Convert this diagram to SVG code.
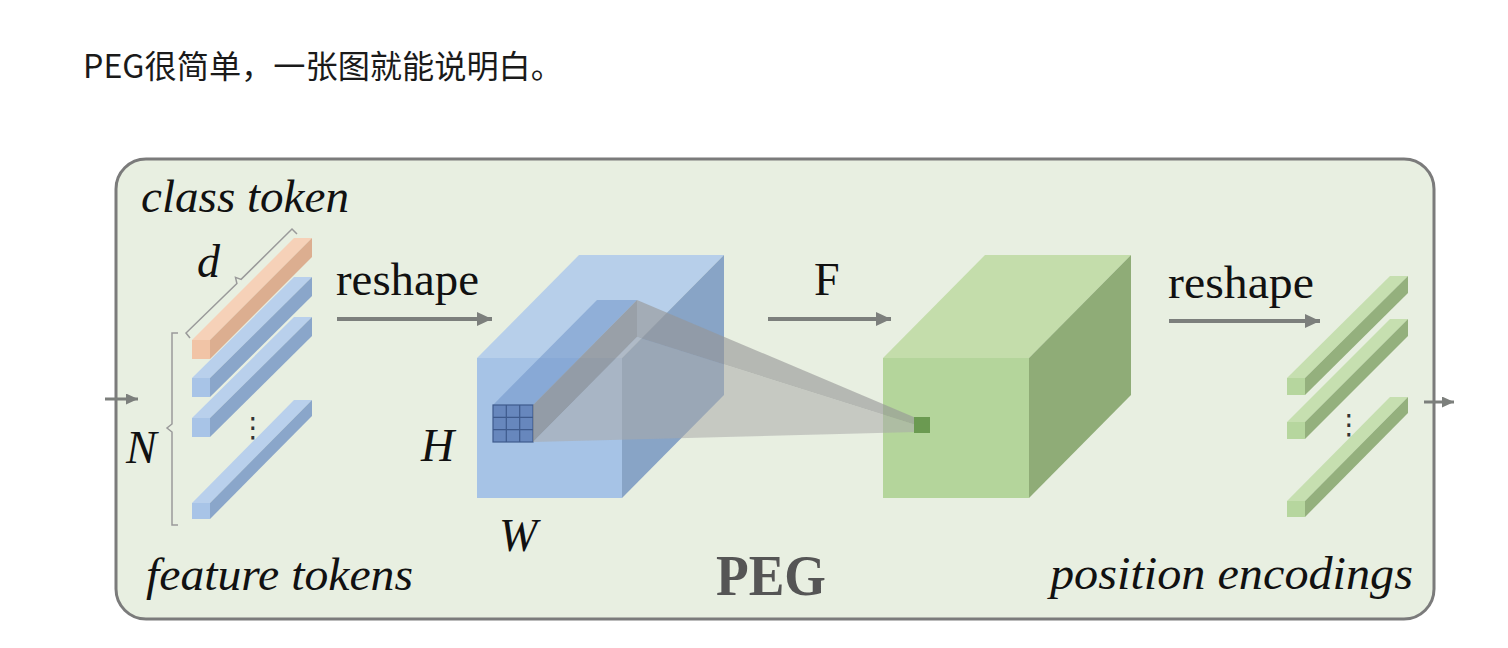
<svg xmlns="http://www.w3.org/2000/svg" width="1508" height="648" viewBox="0 0 1508 648">
<defs>
<style>
.ser{font-family:"Liberation Serif","Times New Roman",serif;fill:#111;}
.it{font-style:italic;}
.lbl{font-size:46px;}
.br{fill:none;stroke:#9a9a9a;stroke-width:1.5;}
.arr{stroke:#7c7f7c;stroke-width:4;fill:none;}
.arrs{stroke:#7c7f7c;stroke-width:3;fill:none;}
.dots{font-family:"DejaVu Sans",sans-serif;font-size:28px;fill:#333;}
.bf{fill:#a8c4e7;} .bt{fill:#b9d0ec;} .bs{fill:#8aa6ca;}
.of{fill:#f1c4a6;} .ot{fill:#f6d1b8;} .os{fill:#dcae90;}
.gf{fill:#b6d69e;} .gt{fill:#c6dfb0;} .gs{fill:#94b07d;}
</style>
<marker id="ah" markerUnits="userSpaceOnUse" markerWidth="16" markerHeight="14" refX="15" refY="7" orient="auto">
<path d="M0,0 L15,7 L0,14 Z" fill="#7c7f7c"/>
</marker>
<marker id="ahs" markerUnits="userSpaceOnUse" markerWidth="13" markerHeight="11" refX="12" refY="5.5" orient="auto">
<path d="M0,0 L12,5.5 L0,11 Z" fill="#7c7f7c"/>
</marker>
</defs>
<rect width="1508" height="648" fill="#ffffff"/>
<text x="83" y="78" font-family="'Noto Sans CJK SC','Noto Sans',sans-serif" font-size="32" fill="#1a1a1a" textLength="480" lengthAdjust="spacingAndGlyphs">PEG很简单，一张图就能说明白。</text>
<g id="panel">
<rect x="116" y="159" width="1318" height="460" rx="30" ry="30" fill="#e8efe1" stroke="#7b7b7b" stroke-width="3"/>
</g>
<g id="connectors">
<line class="arrs" x1="105" y1="399" x2="138" y2="399" marker-end="url(#ahs)"/>
<line class="arr" x1="337" y1="319" x2="492" y2="319" marker-end="url(#ah)"/>
<line class="arr" x1="768" y1="319" x2="891" y2="319" marker-end="url(#ah)"/>
<line class="arr" x1="1169" y1="321" x2="1320" y2="321" marker-end="url(#ah)"/>
<line class="arrs" x1="1424" y1="402" x2="1454" y2="402" marker-end="url(#ahs)"/>
</g>
<g id="feature-tokens">
<rect class="of" x="192" y="340" width="18" height="19"/>
<polygon class="ot" points="192,340 210,340 312,238 294,238"/>
<polygon class="os" points="210,340 312,238 312,257 210,359"/>
<rect class="bf" x="192" y="378" width="18" height="19"/>
<polygon class="bt" points="192,378 210,378 312,277 294,277"/>
<polygon class="bs" points="210,378 312,277 312,296 210,397"/>
<rect class="bf" x="192" y="418" width="18" height="19"/>
<polygon class="bt" points="192,418 210,418 312,317 294,317"/>
<polygon class="bs" points="210,418 312,317 312,336 210,437"/>
<rect class="bf" x="192" y="503" width="18" height="16"/>
<polygon class="bt" points="192,503 210,503 312,400 294,400"/>
<polygon class="bs" points="210,503 312,400 312,416 210,519"/>
<text class="dots" x="253" y="437" text-anchor="middle">⋮</text>
<path class="br" d="M190,338 L186,333 L236.9,283.6 L235.5,277.4 L241.1,279.4 L292,229 L297,234"/>
<path class="br" d="M178,333 L172,333 L172,424 L167,428 L172,432 L172,525 L178,525"/>
<text class="ser it lbl" x="141" y="212" font-size="45" textLength="208" lengthAdjust="spacingAndGlyphs">class token</text>
<text class="ser it lbl" x="197" y="277">d</text>
<text class="ser it lbl" x="126" y="463">N</text>
<text class="ser it lbl" x="146" y="590" textLength="267" lengthAdjust="spacingAndGlyphs">feature tokens</text>
</g>
<g id="reshape-label">
<text class="ser lbl" x="336" y="295" textLength="143" lengthAdjust="spacingAndGlyphs">reshape</text>
</g>
<g id="feature-map">
<rect x="477" y="358" width="145" height="140" fill="#a6c3e6"/>
<polygon points="477,358 622,358 724,255 579,255" fill="#b7cfea"/>
<polygon points="622,358 724,255 724,395 622,498" fill="#88a4c6"/>
<polygon points="493,405 533,405 637,300 597,300" fill="#6a8fc6" fill-opacity="0.5"/>
<rect x="493" y="405" width="40" height="37" fill="#6787bd" stroke="#3e5a8c" stroke-width="1.2"/>
<path d="M506.3,405 V442 M519.7,405 V442 M493,417.3 H533 M493,429.7 H533" stroke="#3e5a8c" stroke-width="1.2" fill="none"/>
<text class="ser it lbl" x="421" y="461">H</text>
<text class="ser it lbl" x="499" y="551">W</text>
</g>
<g id="F-label">
<text class="ser lbl" x="814" y="295">F</text>
</g>
<g id="output-map">
<rect x="883" y="358" width="146" height="140" fill="#b4d59b"/>
<polygon points="883,358 1029,358 1131,255 985,255" fill="#c4ddab"/>
<polygon points="1029,358 1131,255 1131,395 1029,498" fill="#8fac77"/>
</g>
<g id="receptive-field">
<polygon points="533,405 637,300 637,337 533,442" fill="#8c8c8c" fill-opacity="0.7"/>
<polygon points="637,300 916,418 916,425 637,337" fill="#969696" fill-opacity="0.62"/>
<polygon points="533,442 637,337 916,425 916,432" fill="#a9a9a9" fill-opacity="0.55"/>
<rect x="914" y="417" width="16" height="16" fill="#6b9a51"/>
</g>
<g id="position-encodings">
<rect class="gf" x="1287" y="378" width="18" height="17"/>
<polygon class="gt" points="1287,378 1305,378 1408,276 1390,276"/>
<polygon class="gs" points="1305,378 1408,276 1408,293 1305,395"/>
<rect class="gf" x="1287" y="422" width="18" height="17"/>
<polygon class="gt" points="1287,422 1305,422 1408,319 1390,319"/>
<polygon class="gs" points="1305,422 1408,319 1408,336 1305,439"/>
<rect class="gf" x="1287" y="501" width="18" height="16"/>
<polygon class="gt" points="1287,501 1305,501 1408,397 1390,397"/>
<polygon class="gs" points="1305,501 1408,397 1408,413 1305,517"/>
<text class="dots" x="1349" y="434" text-anchor="middle">⋮</text>
<text class="ser lbl" x="1168" y="298" textLength="146" lengthAdjust="spacingAndGlyphs">reshape</text>
<text class="ser it lbl" x="1050" y="589" textLength="363" lengthAdjust="spacingAndGlyphs">position encodings</text>
</g>
<g id="peg-title">
<text x="716" y="595" font-family="'Liberation Serif','Times New Roman',serif" font-weight="bold" font-size="56" fill="#555" textLength="110" lengthAdjust="spacingAndGlyphs">PEG</text>
</g>
</svg>
